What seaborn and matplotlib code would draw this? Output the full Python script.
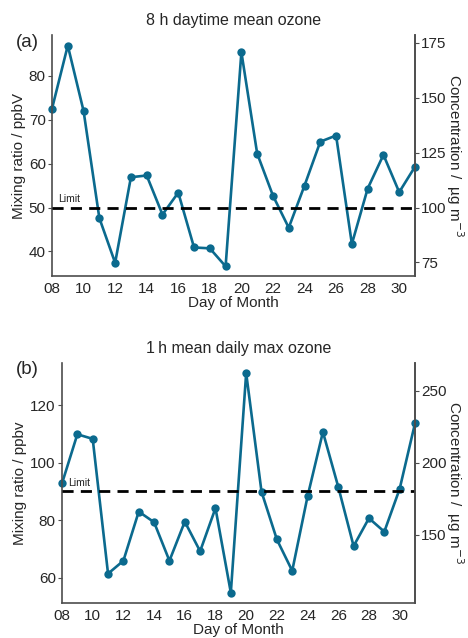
import numpy as np
import pandas as pd
import matplotlib
matplotlib.use('Agg')
import matplotlib.pyplot as plt
import seaborn as sns

# Jours du mois
days = list(range(8, 32))

# 8 h daytime mean ozone (ppbV)
ozone_8h = [72.5, 86.9, 72.0, 47.6, 37.4, 56.9, 57.3, 48.4, 53.4, 40.9, 40.7, 36.6,
            85.4, 62.3, 52.7, 45.4, 55.0, 65.0, 66.4, 41.7, 54.3, 62.0, 53.5, 59.3]

# 1 h mean daily max ozone (ppbv)
ozone_1h = [92.8, 109.9, 108.3, 61.4, 65.9, 83.0, 79.3, 65.9, 79.5, 69.2, 84.2, 54.8,
            131.2, 89.9, 73.3, 62.4, 88.3, 110.7, 91.6, 71.0, 80.7, 76.0, 90.9, 113.7]

limits = [50, 90]
titles = ['8 h daytime mean ozone', '1\u2009h mean daily max ozone']
ylabels = ['Mixing ratio / ppbV', 'Mixing ratio / ppbv']
panel_tags = ['(a)', '(b)']
left_ticks = [[40, 50, 60, 70, 80], [60, 80, 100, 120]]
right_ticks = [[75, 100, 125, 150, 175], [150, 200, 250]]
ylims = [(34.4, 89.3), (51.2, 134.7)]

ppb_to_ug = 2.0  # facteur de conversion ppb -> µg m-3

sns.set_style('white')
plt.rcParams['font.family'] = ['Liberation Sans', 'DejaVu Sans']

line_color = '#0B6A8E'
spine_color = '#4D4D4D'

fig = plt.figure(figsize=(4.68, 6.38), dpi=100)
ax_a = fig.add_axes([52 / 468, 1 - 276 / 638, 363 / 468, 241 / 638])
ax_b = fig.add_axes([62 / 468, 1 - 603 / 638, 353 / 468, 240 / 638])
tag_y = [1 - 34 / 638, 1 - 361 / 638]

for i, (ax, vals) in enumerate(zip([ax_a, ax_b], [ozone_8h, ozone_1h])):
    df = pd.DataFrame({'day': days, 'ozone': vals})
    sns.lineplot(data=df, x='day', y='ozone', ax=ax, color=line_color, lw=1.9,
                 marker='o', markersize=6, markeredgewidth=0, clip_on=False)
    ax.axhline(limits[i], color='black', lw=2, ls=(0, (4, 2.6)), zorder=3)
    ax.text(8.4, limits[i] + (0.9 if i == 0 else 1.3), 'Limit', fontsize=7.5,
            ha='left', va='bottom', color='#222222')

    ax.set_xlim(8, 31)
    ax.set_ylim(*ylims[i])
    ax.set_xticks(range(8, 32, 2))
    ax.set_xticklabels(['%02d' % d for d in range(8, 32, 2)])
    ax.set_yticks(left_ticks[i])
    ax.set_xlabel('Day of Month', fontsize=11, labelpad=0)
    ax.set_ylabel(ylabels[i], fontsize=11, labelpad=2)
    ax.set_title(titles[i], fontsize=11.5, pad=7)
    fig.text(16 / 468, tag_y[i], panel_tags[i], fontsize=13.5, ha='left', va='top')

    ax.spines['top'].set_visible(False)
    for s in ['left', 'bottom', 'right']:
        ax.spines[s].set_color(spine_color)
        ax.spines[s].set_linewidth(1.2)
    ax.tick_params(axis='both', labelsize=11, length=3, width=0.8,
                   color=spine_color, direction='out', pad=1.5)

    # Axe secondaire en µg m-3
    ax2 = ax.twinx()
    ax2.set_ylim(ylims[i][0] * ppb_to_ug, ylims[i][1] * ppb_to_ug)
    ax2.set_yticks(right_ticks[i])
    ax2.spines['top'].set_visible(False)
    ax2.spines['left'].set_visible(False)
    ax2.spines['bottom'].set_visible(False)
    ax2.spines['right'].set_color(spine_color)
    ax2.spines['right'].set_linewidth(1.2)
    ax2.tick_params(axis='y', labelsize=11, length=3, width=0.8,
                    color=spine_color, direction='out', pad=1.5)
    ax2.set_ylabel('Concentration /  µg m$^{-3}$', fontsize=11, rotation=270,
                   labelpad=14)

fig.savefig('out.png', dpi=100)
plt.close()
